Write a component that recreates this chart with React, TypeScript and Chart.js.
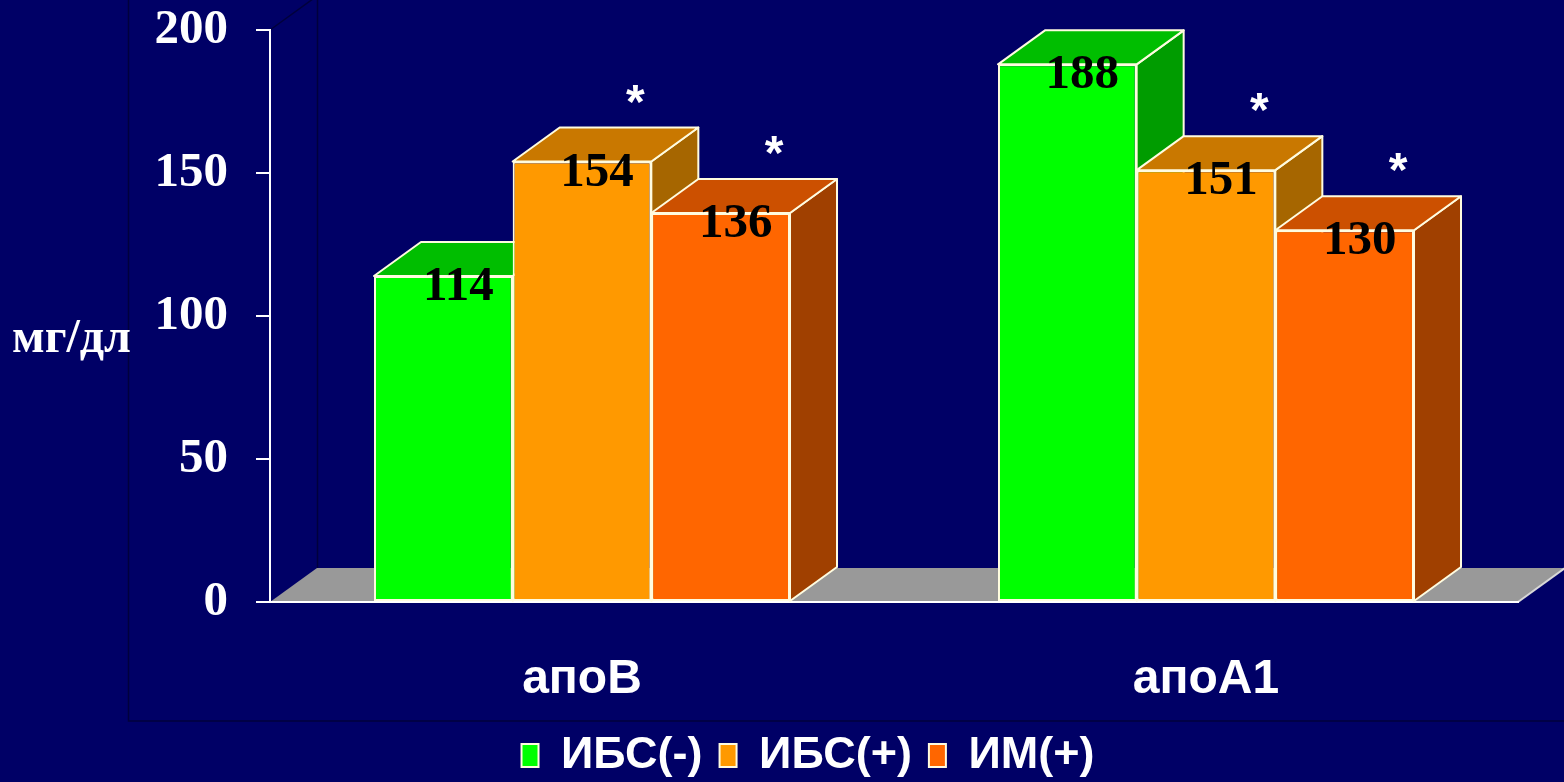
import React, { useEffect, useRef } from "react";
import { Chart, registerables } from "chart.js";

Chart.register(...registerables);

// ---- data ----
const categories = ["апоB", "апоA1"];
const seriesNames = ["ИБС(-)", "ИБС(+)", "ИМ(+)"];
const ibsNeg = [114, 188];
const ibsPos = [154, 151];
const imPos = [136, 130];
const ibsNegSig = [false, false];
const ibsPosSig = [true, true];
const imPosSig = [true, true];
const yMin = 0;
const yMax = 200;
const yStep = 50;
const yUnit = "мг/дл";
const sigMark = "*";

// ---- styles ----
const BG = "#000066";
const EDGE = "#FFFCE0";
const frontColors = ["#00FF00", "#FF9900", "#FF6600"];
const topColors = ["#00BE00", "#C97800", "#CC5000"];
const sideColors = ["#009C00", "#A66600", "#A04000"];
const FLOOR = "#999999";
const DX = 47;
const DY = 34;
const SERIF = '"Liberation Serif", "Times New Roman", serif';
const SANS = '"Liberation Sans", Arial, sans-serif';

const seriesValues = [ibsNeg, ibsPos, imPos];
const seriesSig = [ibsNegSig, ibsPosSig, imPosSig];

function barGeom(el: any) {
  const p = el.getProps(["x", "y", "base", "width"], true);
  return {
    left: p.x - p.width / 2,
    right: p.x + p.width / 2,
    x: p.x,
    top: Math.min(p.y, p.base),
    base: Math.max(p.y, p.base),
  };
}

const threeD = {
  id: "threeD",
  beforeDraw(chart: any) {
    const { ctx, chartArea: a } = chart;
    ctx.save();
    ctx.fillStyle = BG;
    ctx.fillRect(0, 0, chart.width, chart.height);
    // outer plot frame (faint)
    ctx.strokeStyle = "#00003C";
    ctx.lineWidth = 1.5;
    ctx.beginPath();
    ctx.moveTo(128.5, 0);
    ctx.lineTo(128.5, 721);
    ctx.lineTo(chart.width, 721);
    ctx.stroke();
    // back wall edge
    ctx.beginPath();
    ctx.moveTo(a.left, a.top);
    ctx.lineTo(a.left + DX, a.top - DY);
    ctx.moveTo(a.left + DX + 0.5, a.top - DY);
    ctx.lineTo(a.left + DX + 0.5, a.bottom - DY);
    ctx.stroke();
    // floor
    ctx.fillStyle = FLOOR;
    ctx.beginPath();
    ctx.moveTo(a.left, a.bottom);
    ctx.lineTo(a.right, a.bottom);
    ctx.lineTo(a.right + DX, a.bottom - DY);
    ctx.lineTo(a.left + DX, a.bottom - DY);
    ctx.closePath();
    ctx.fill();
    ctx.strokeStyle = "#D8D8D8";
    ctx.lineWidth = 2;
    ctx.beginPath();
    ctx.moveTo(a.right, a.bottom);
    ctx.lineTo(a.right + DX, a.bottom - DY);
    ctx.stroke();
    ctx.restore();
  },
  beforeDatasetsDraw(chart: any) {
    const { ctx } = chart;
    ctx.save();
    ctx.lineWidth = 2;
    ctx.strokeStyle = EDGE;
    ctx.lineJoin = "round";
    for (let j = 0; j < categories.length; j++) {
      for (let i = 0; i < seriesValues.length; i++) {
        const meta = chart.getDatasetMeta(i);
        const el = meta.data[j];
        if (!el) continue;
        const g = barGeom(el);
        // side
        ctx.fillStyle = sideColors[i];
        ctx.beginPath();
        ctx.moveTo(g.right, g.top);
        ctx.lineTo(g.right + DX, g.top - DY);
        ctx.lineTo(g.right + DX, g.base - DY);
        ctx.lineTo(g.right, g.base);
        ctx.closePath();
        ctx.fill();
        ctx.stroke();
        // top
        ctx.fillStyle = topColors[i];
        ctx.beginPath();
        ctx.moveTo(g.left, g.top);
        ctx.lineTo(g.left + DX, g.top - DY);
        ctx.lineTo(g.right + DX, g.top - DY);
        ctx.lineTo(g.right, g.top);
        ctx.closePath();
        ctx.fill();
        ctx.stroke();
      }
    }
    ctx.restore();
  },
  afterDatasetsDraw(chart: any) {
    const { ctx } = chart;
    ctx.save();
    for (let i = 0; i < seriesValues.length; i++) {
      const meta = chart.getDatasetMeta(i);
      for (let j = 0; j < categories.length; j++) {
        const el = meta.data[j];
        if (!el) continue;
        const g = barGeom(el);
        // value label
        ctx.font = `bold 49px ${SERIF}`;
        ctx.fillStyle = "#000000";
        ctx.textAlign = "center";
        ctx.textBaseline = "alphabetic";
        const txt = String(seriesValues[i][j]);
        const m = ctx.measureText(txt);
        const asc = m.actualBoundingBoxAscent;
        const desc = m.actualBoundingBoxDescent;
        const cy = g.top + 8;
        ctx.fillText(txt, g.x + 15, cy + (asc - desc) / 2);
        // significance mark
        if (seriesSig[i][j]) {
          ctx.font = `bold 48px ${SANS}`;
          ctx.fillStyle = "#FFFFFF";
          const ms = ctx.measureText(sigMark);
          const a2 = ms.actualBoundingBoxAscent;
          const d2 = ms.actualBoundingBoxDescent;
          const sy = g.top - 68;
          ctx.fillText(sigMark, g.right - 16, sy + (a2 - d2) / 2);
        }
      }
    }
    ctx.restore();
  },
  afterDraw(chart: any) {
    const { ctx, chartArea: a } = chart;
    ctx.save();
    ctx.font = `bold 48px ${SERIF}`;
    ctx.fillStyle = "#FFFFFF";
    ctx.textAlign = "left";
    ctx.textBaseline = "alphabetic";
    ctx.fillText(yUnit, 12, (a.top + a.bottom) / 2 + 36);
    ctx.restore();
  },
};

export default function App() {
  const ref = useRef<HTMLCanvasElement | null>(null);
  useEffect(() => {
    if (!ref.current) return;
    const chart = new Chart(ref.current, {
      type: "bar",
      data: {
        labels: categories,
        datasets: seriesNames.map((name, i) => ({
          label: name,
          data: seriesValues[i],
          backgroundColor: frontColors[i],
          borderColor: EDGE,
          borderWidth: 2,
          borderSkipped: false,
          barPercentage: 1,
          categoryPercentage: 0.6667,
        })),
      },
      options: {
        animation: false,
        responsive: false,
        devicePixelRatio: 1,
        events: [],
        layout: { padding: { left: 98, right: 46, top: 30, bottom: -6 } },
        plugins: {
          tooltip: { enabled: false },
          title: { display: false },
          legend: {
            display: true,
            position: "bottom",
            labels: {
              color: "#FFFFFF",
              font: { family: SANS, size: 45, weight: "bold" },
              boxWidth: 17,
              boxHeight: 23,
              padding: 17,
            },
          },
        },
        scales: {
          x: {
            grid: { display: false, drawTicks: false },
            border: { display: true, color: "#FFFFFF", width: 2 },
            ticks: {
              color: "#FFFFFF",
              font: { family: SANS, size: 48, weight: "bold" },
              padding: 49,
            },
            afterFit: (s: any) => {
              s.height = 114;
            },
          },
          y: {
            min: yMin,
            max: yMax,
            ticks: {
              stepSize: yStep,
              color: "#FFFFFF",
              font: { family: SERIF, size: 49, weight: "bold" },
              padding: 28,
            },
            grid: {
              drawOnChartArea: false,
              drawTicks: true,
              tickLength: 14,
              color: "#FFFFFF",
              lineWidth: 2,
            },
            border: { display: true, color: "#FFFFFF", width: 2 },
            afterFit: (s: any) => {
              s.width = 172;
              s.paddingTop = 0;
              s.paddingBottom = 0;
            },
          },
        },
      },
      plugins: [threeD],
    });
    return () => chart.destroy();
  }, []);
  return (
    <div style={{ position: "fixed", left: 0, top: 0, width: 1564, height: 782, background: BG }}>
      <canvas ref={ref} width={1564} height={782} style={{ display: "block" }} />
    </div>
  );
}
